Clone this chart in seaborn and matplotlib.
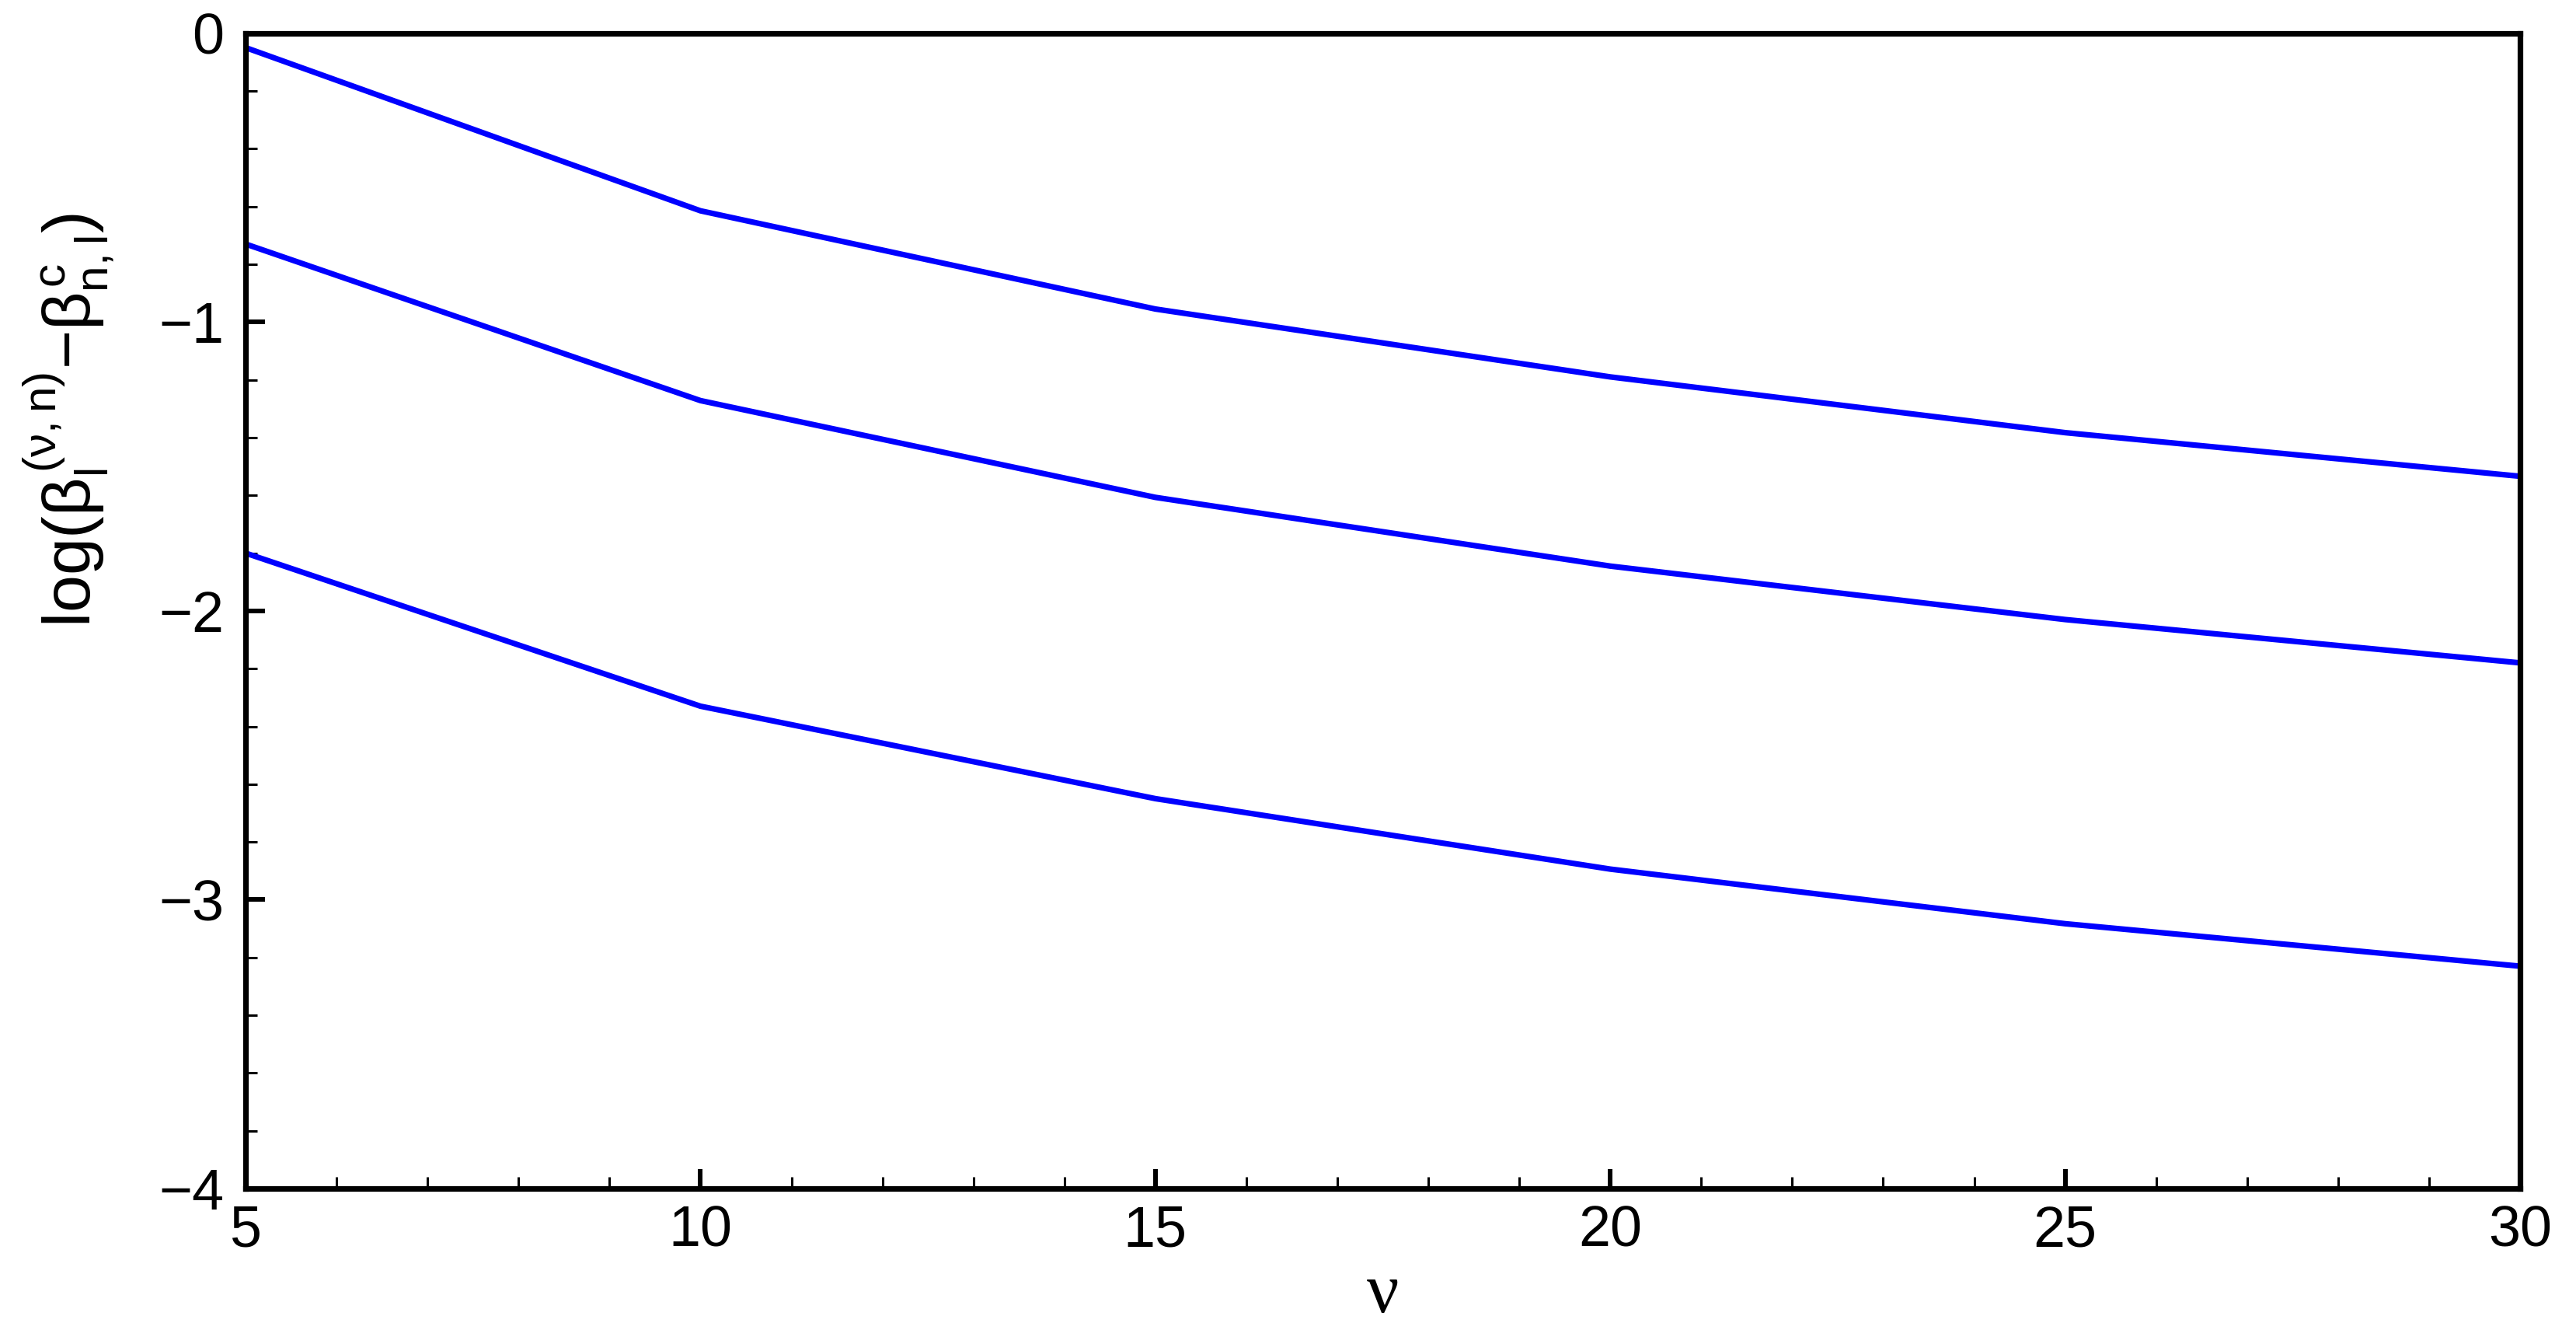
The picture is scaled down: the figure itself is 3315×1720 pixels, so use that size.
import numpy as np
import pandas as pd
import matplotlib
matplotlib.use('Agg')
import matplotlib.pyplot as plt
import seaborn as sns
from matplotlib.ticker import MultipleLocator

# data
nu = [5, 10, 15, 20, 25, 30]
curve_top = [-0.05, -0.615, -0.955, -1.19, -1.383, -1.534]
curve_mid = [-0.73, -1.272, -1.607, -1.845, -2.03, -2.18]
curve_bot = [-1.80, -2.33, -2.65, -2.894, -3.083, -3.23]
curve_names = ['a', 'b', 'c']

df = pd.DataFrame({
    'nu': nu * 3,
    'val': curve_top + curve_mid + curve_bot,
    'curve': np.repeat(curve_names, len(nu)),
})

sns.set_theme(style='ticks')
plt.rcParams['font.family'] = ['Liberation Sans', 'DejaVu Sans']
plt.rcParams['mathtext.fontset'] = 'custom'
plt.rcParams['mathtext.rm'] = 'Liberation Sans'
plt.rcParams['mathtext.it'] = 'Liberation Sans'
plt.rcParams['mathtext.sf'] = 'Liberation Sans'
plt.rcParams['text.color'] = 'black'
plt.rcParams['axes.labelcolor'] = 'black'
plt.rcParams['xtick.labelcolor'] = 'black'
plt.rcParams['ytick.labelcolor'] = 'black'

fig = plt.figure(figsize=(33.16, 17.2), dpi=100)
ax = fig.add_axes([0.0953, 0.111, 0.8827, 0.8642])

sns.lineplot(data=df, x='nu', y='val', hue='curve',
             palette=['#0000ff'] * 3, linewidth=5.2, legend=False, ax=ax)

ax.set_xlim(5, 30)
ax.set_ylim(-4, 0)
ax.xaxis.set_major_locator(MultipleLocator(5))
ax.xaxis.set_minor_locator(MultipleLocator(1))
ax.yaxis.set_major_locator(MultipleLocator(1))
ax.yaxis.set_minor_locator(MultipleLocator(0.2))

ax.tick_params(which='both', direction='in', top=False, right=False,
               color='black', labelcolor='black')
ax.tick_params(which='major', length=18, width=4.3, labelsize=53)
ax.tick_params(axis='x', which='major', pad=15)
ax.tick_params(axis='y', which='major', pad=20)
ax.tick_params(which='minor', length=11, width=2.2)

for s in ax.spines.values():
    s.set_linewidth(5.2)
    s.set_color('black')

ax.set_xlabel('ν', fontsize=66, family='Liberation Serif', color='black', labelpad=4)
ax.set_ylabel(r'log($\beta_l^{(\nu,n)}$$-\beta_{n,l}^{c}$)', fontsize=62, color='black')
ax.yaxis.set_label_coords(-0.057, 0.665)

fig.savefig('out.png', dpi=100, facecolor='white')
